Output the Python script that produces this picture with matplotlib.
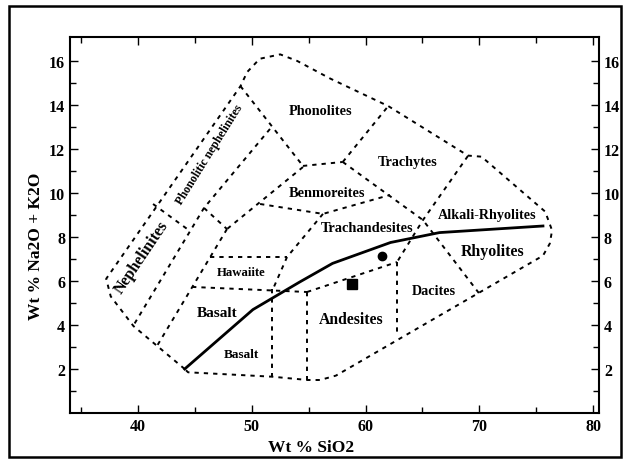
import matplotlib
matplotlib.use('Agg')
import matplotlib.pyplot as plt
import numpy as np
from matplotlib.patches import Rectangle

plt.rcParams['font.family'] = ['Liberation Serif', 'DejaVu Serif']
plt.rcParams['font.weight'] = 'bold'

# outer envelope of the diagram
outer_x = [44.1, 39.6, 37.6, 37.2, 49.0, 49.6, 50.7, 52.5, 54.0, 56.9, 62.0, 69.0, 70.2,
           75.8, 76.4, 76.2, 75.6, 57.4, 56.0, 54.9, 51.8, 44.4, 44.1]
outer_y = [2.0, 3.95, 5.3, 6.1, 14.85, 15.5, 16.1, 16.3, 16.0, 15.2, 13.95, 11.7, 11.65,
           9.15, 8.3, 7.7, 7.15, 1.7, 1.5, 1.5, 1.65, 1.85, 2.0]

# internal field boundaries (x list, y list)
bounds = [
    ([49.0, 54.5], [14.86, 11.23]),                  # phonolite left
    ([54.5, 58.0], [11.23, 11.41]),                  # benmoreite top
    ([58.0, 62.0], [11.41, 13.95]),                  # phonolite / trachyte
    ([58.0, 65.05, 70.1], [11.41, 8.77, 5.36]),      # trachyte / rhyolite / dacite
    ([69.0, 65.05, 62.77], [11.68, 8.77, 6.86]),     # trachyte / alkali-rhyolite
    ([62.77, 62.77], [6.86, 3.64]),                  # andesite / dacite
    ([54.86, 62.77], [5.5, 6.86]),                   # andesite top
    ([44.75, 54.86], [5.73, 5.5]),                   # basalt top
    ([51.78, 51.78], [5.64, 1.68]),                  # basalt / basaltic andesite
    ([54.86, 54.86], [5.5, 1.5]),                    # basaltic andesite / andesite
    ([46.33, 53.1], [7.09, 7.09]),                   # hawaiite top
    ([56.26, 53.1, 51.87], [9.05, 7.09, 5.64]),      # trachyandesite left
    ([50.73, 56.26, 62.15], [9.5, 9.05, 9.91]),      # benmoreite bottom
    ([54.5, 47.82], [11.18, 8.36]),
    ([47.82, 41.67], [8.36, 3.05]),
    ([51.6, 45.8, 39.56], [12.91, 9.32, 3.95]),
    ([45.8, 47.82], [9.32, 8.36]),
    ([41.32, 44.57], [9.5, 8.27]),
]

# alkaline / subalkaline divide
alk_x = [44.1, 50.1, 54.2, 57.1, 62.2, 66.5, 75.6]
alk_y = [2.0, 4.7, 5.95, 6.8, 7.75, 8.2, 8.5]

# samples
circle_x, circle_y = [61.45], [7.14]
square_x, square_y = [58.8], [5.86]

# field names
names = ['Phonolites', 'Trachytes', 'Benmoreites', 'Trachandesites', 'Alkali-Rhyolites',
         'Rhyolites', 'Dacites', 'Andesites', 'Basalt', 'Basalt', 'Hawaiite',
         'Nephelinites', 'Phonolitic nephelinites']
name_x = [56.0, 63.7, 56.6, 60.1, 70.7, 71.2, 66.0, 58.7, 47.0, 49.05, 49.05, 40.35, 46.3]
name_y = [13.77, 11.45, 10.0, 8.45, 9.0, 7.36, 5.55, 4.27, 4.55, 2.68, 6.41, 7.09, 11.77]
name_size = [10.3, 10.2, 10.4, 10.4, 10.2, 11.4, 10.2, 11.3, 11, 9.5, 9.2, 11.5, 8.6]
name_rot = [0, 0, 0, 0, 0, 0, 0, 0, 0, 0, 0, 56, 58]

fig = plt.figure(figsize=(6.24, 4.6), dpi=100)
ax = fig.add_axes([0.1122, 0.1, 0.8478, 0.8174])

dash = (0, (2.2, 2.6))
ax.plot(outer_x, outer_y, color='k', lw=1.4, linestyle=dash)
for bx, by in bounds:
    ax.plot(bx, by, color='k', lw=1.4, linestyle=dash)
ax.plot(alk_x, alk_y, color='k', lw=2)
ax.plot(circle_x, circle_y, 'o', color='k', ms=6)
ax.plot(square_x, square_y, 's', color='k', ms=7)

for i in range(len(names)):
    ax.text(name_x[i], name_y[i], names[i], fontsize=name_size[i], rotation=name_rot[i],
            ha='center', va='center', fontweight='bold')

ax.set_xlim(34.02, 80.53)
ax.set_ylim(0, 17.09)
ax.set_xticks([40, 50, 60, 70, 80])
ax.set_xticks(np.arange(35, 81, 5), minor=True)
ax.set_yticks(np.arange(2, 17, 2))
ax.set_yticks(np.arange(1, 17, 1), minor=True)
ax.tick_params(which='both', direction='in', top=True, right=True, labelright=True,
               labelsize=11.5, width=1)
ax.tick_params(which='major', length=6)
ax.tick_params(which='minor', length=4)
for s in ax.spines.values():
    s.set_linewidth(1.5)

ax.set_xlabel('Wt % SiO2', fontsize=12.5, fontweight='bold')
ax.set_ylabel('Wt % Na2O + K2O', fontsize=12.5, fontweight='bold')
ax.xaxis.set_label_coords(0.455, -0.068)
ax.yaxis.set_label_coords(-0.05, 0.447)

fig.patches.append(Rectangle((9 / 624, 2 / 460), 612 / 624, 451 / 460, fill=False,
                             edgecolor='k', lw=1.8, transform=fig.transFigure))

plt.savefig('out.png', dpi=100)
